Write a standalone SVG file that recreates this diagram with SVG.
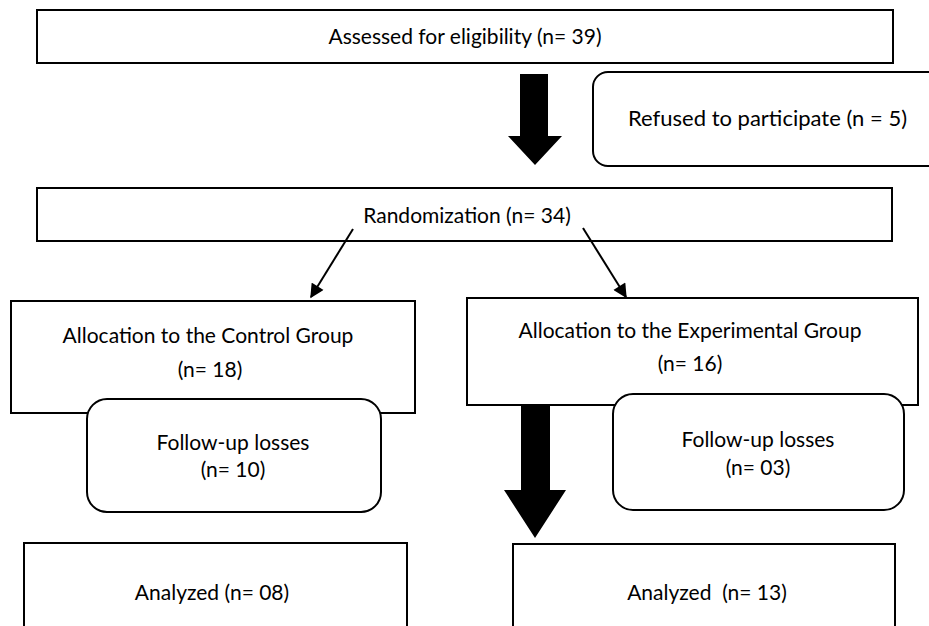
<svg xmlns="http://www.w3.org/2000/svg" width="929" height="626" viewBox="0 0 929 626">
<style>
.box{fill:#fff;stroke:#000;stroke-width:2}
.t{font-family:Lato,"Liberation Sans",sans-serif;font-size:21px;fill:#000;text-anchor:middle}
.ln{stroke:#000;stroke-width:2;fill:none}
.blk{fill:#000;stroke:none}
</style>
<defs>
<marker id="ah" viewBox="0 0 10 10" refX="9" refY="5" markerWidth="7.5" markerHeight="7" markerUnits="strokeWidth" orient="auto">
<path d="M0,0 L10,5 L0,10 z" fill="#000"/>
</marker>
</defs>
<rect width="929" height="626" fill="#fff"/>
<g id="assessed">
<rect class="box" x="37" y="10" width="856" height="53"/>
<text class="t" x="465" y="44">Assessed for eligibility (n= 39)</text>
</g>
<g id="refused">
<rect class="box" x="593" y="72" width="360" height="94" rx="15" ry="15"/>
<text class="t" x="628" y="126" style="text-anchor:start;font-size:22px">Refused to participate (n = 5)</text>
</g>
<g id="randomization">
<rect class="box" x="37" y="188" width="855" height="53"/>
<text class="t" x="467" y="223">Randomization (n= 34)</text>
</g>
<g id="control">
<rect class="box" x="11" y="301" width="404" height="112"/>
<text class="t" x="208" y="343">Allocation to the Control Group</text>
<text class="t" x="210" y="377">(n= 18)</text>
</g>
<g id="experimental">
<rect class="box" x="467" y="298" width="451" height="107"/>
<text class="t" x="690" y="338">Allocation to the Experimental Group</text>
<text class="t" x="690" y="371">(n= 16)</text>
</g>
<g id="losses-control">
<rect class="box" x="87" y="399" width="294" height="113" rx="20" ry="20"/>
<text class="t" x="233" y="450">Follow-up losses</text>
<text class="t" x="233" y="477">(n= 10)</text>
</g>
<g id="losses-experimental">
<rect class="box" x="613" y="394" width="291" height="116" rx="20" ry="20"/>
<text class="t" x="758" y="447">Follow-up losses</text>
<text class="t" x="758" y="475">(n= 03)</text>
</g>
<g id="analyzed-control">
<rect class="box" x="24" y="543" width="383" height="100"/>
<text class="t" x="212" y="600">Analyzed (n= 08)</text>
</g>
<g id="analyzed-experimental">
<rect class="box" x="513" y="544" width="382" height="100"/>
<text class="t" x="707" y="600" xml:space="preserve">Analyzed  (n= 13)</text>
</g>
<g id="connectors">
<path class="blk" d="M520,74 H548 V136 H562 L535,165 L508,136 H520 Z"/>
<path class="blk" d="M521,405 H550 V490 H566 L535,538 L504,490 H521 Z"/>
<line class="ln" x1="353" y1="229" x2="311" y2="297" marker-end="url(#ah)"/>
<line class="ln" x1="583" y1="228" x2="626" y2="297" marker-end="url(#ah)"/>
</g>
</svg>
